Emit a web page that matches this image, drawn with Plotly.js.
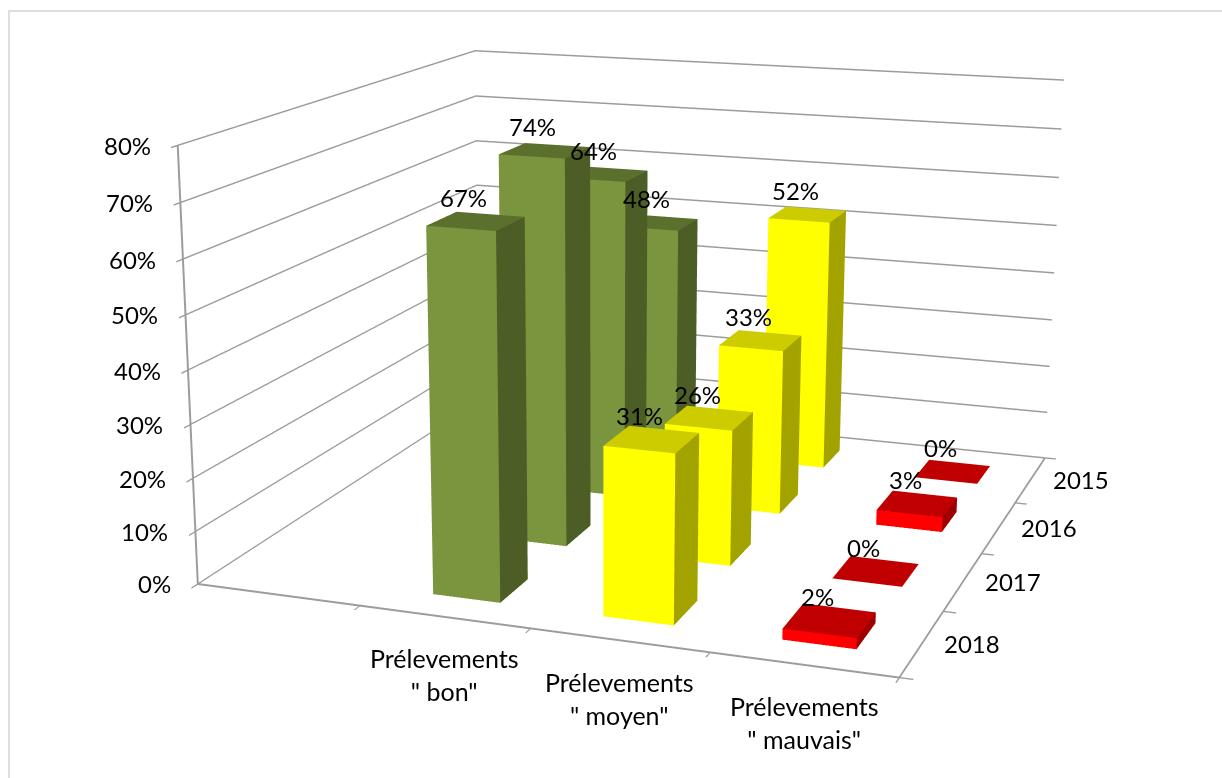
<!DOCTYPE html>
<html><head><meta charset="utf-8">
<script src="https://cdn.plot.ly/plotly-3.0.1.min.js"></script>
<style>html,body{margin:0;padding:0;width:1222px;height:778px;overflow:hidden;background:#fff}
#c{position:absolute;left:-700px;top:-633px;width:2600px;height:2040px}</style>
</head><body><div id="c"></div><script>
const categories = ['', 'Prélevements<br>" bon"', 'Prélevements<br>" moyen"', 'Prélevements<br>" mauvais"'];
const years = ['2018', '2017', '2016', '2015'];
const bon = [0.67, 0.74, 0.64, 0.48];
const moyen = [0.31, 0.26, 0.33, 0.52];
const mauvais = [0.02, 0, 0.03, 0];
const zTicks = [0, 0.1, 0.2, 0.3, 0.4, 0.5, 0.6, 0.7, 0.8];
const zLabels = ['0%', '10%', '20%', '30%', '40%', '50%', '60%', '70%', '80%'];

const W = 2600, H = 2040, LEFT = 700, TOP = 633;
const barW = 0.4, barD = 0.4;
const font = {family: 'Lato, Carlito, sans-serif', size: 24, color: '#000'};
const catFont = {family: 'Lato, Carlito, sans-serif', size: 25, color: '#000'};

function bars(catIndex, vals, front, side, top, name) {
  const x = [], y = [], z = [], i = [], j = [], k = [], fc = [];
  vals.forEach((v, n) => {
    const b = x.length;
    const x0 = catIndex + 0.5 - barW / 2, x1 = catIndex + 0.5 + barW / 2;
    const y0 = n + 0.5 - barD / 2, y1 = n + 0.5 + barD / 2;
    [[x0,y0,0],[x1,y0,0],[x1,y1,0],[x0,y1,0],[x0,y0,v],[x1,y0,v],[x1,y1,v],[x0,y1,v]]
      .forEach(p => { x.push(p[0]); y.push(p[1]); z.push(p[2]); });
    const faces = [[4,5,6,top],[4,6,7,top]];
    if (v > 0) faces.push([0,1,5,front],[0,5,4,front],[1,2,6,side],[1,6,5,side]);
    faces.forEach(f => { i.push(b+f[0]); j.push(b+f[1]); k.push(b+f[2]); fc.push(f[3]); });
  });
  return {type: 'mesh3d', name, x, y, z, i, j, k, facecolor: fc, flatshading: true, hoverinfo: 'skip',
    lighting: {ambient: 1, diffuse: 0, specular: 0, roughness: 1, fresnel: 0}, showscale: false};
}
const traces = [
  bars(1, bon, '#7B953E', '#4C5E26', '#5C702E', 'bon'),
  bars(2, moyen, '#FFFF00', '#A3A300', '#CCCC00', 'moyen'),
  bars(3, mauvais, '#FF0000', '#9E0000', '#C00000', 'mauvais')
];
const annotations = [];
function ann(x, y, z, text, xshift, yshift, xanchor, f) {
  annotations.push({x, y, z, text, xshift, yshift, xanchor: xanchor || 'center', yanchor: 'middle',
    showarrow: false, font: f || font, align: 'center'});
}
[bon, moyen, mauvais].forEach((vals, c) => vals.forEach((v, n) =>
  ann(c + 1.5, n + 0.5, v, Math.round(v * 100) + '%', -12, 24)));
zTicks.forEach((t, n) => ann(0, 0, t, zLabels[n], -25, 0, 'right'));
years.forEach((t, n) => ann(4, n + 0.5, 0, t, 50, 0));
categories.forEach((t, n) => { if (t) ann(n + 0.5, 0, 0, t, 0, -58, 'center', catFont); });

const lineStyle = {showgrid: false, zeroline: false, showbackground: false, showspikes: false,
  showline: true, linecolor: '#9C9C9C', linewidth: 4, ticks: 'outside', ticklen: 10, tickcolor: '#9C9C9C',
  tickwidth: 3, showticklabels: false, title: {text: ''}, autorange: false};
const layout = {
  width: W, height: H, margin: {l: 0, r: 0, t: 0, b: 0, pad: 0},
  paper_bgcolor: '#fff', hovermode: false, showlegend: false,
  shapes: [{type: 'rect', xref: 'paper', yref: 'paper', layer: 'above',
    x0: (LEFT + 9) / W, x1: 1, y0: 0, y1: 1 - (TOP + 11) / H,
    line: {color: '#DEDEDE', width: 2}, fillcolor: 'rgba(0,0,0,0)'}],
  scene: {
    domain: {x: [0, 1], y: [0, 1]},
    bgcolor: 'rgba(0,0,0,0)',
    aspectmode: 'manual', aspectratio: {x: 1, y: 1.0098, z: 0.618},
    camera: {
      eye: {x: 1.146, y: -3.353, z: 0.8645},
      center: {x: -0.0678, y: -0.0542, z: -0.0990},
      up: {x: 0, y: 0, z: 1}, projection: {type: 'perspective'}
    },
    xaxis: Object.assign({}, lineStyle, {range: [0, categories.length], tickvals: categories.map((c, n) => n).concat([categories.length])}),
    yaxis: Object.assign({}, lineStyle, {range: [0, years.length], tickvals: years.map((c, n) => n).concat([years.length])}),
    zaxis: Object.assign({}, lineStyle, {range: [0, 0.8], tickvals: zTicks, showgrid: true, gridcolor: '#9C9C9C', gridwidth: 3}),
    annotations
  }
};
Plotly.newPlot('c', traces, layout, {displayModeBar: false, staticPlot: false});
</script></body></html>
